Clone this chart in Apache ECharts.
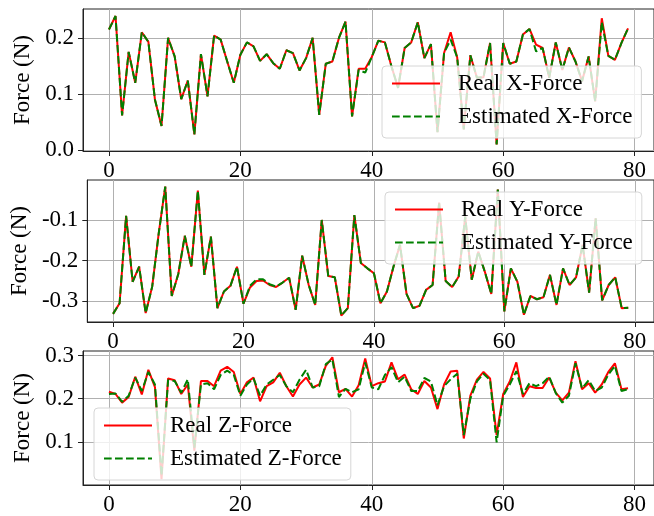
<!DOCTYPE html>
<html>
<head>
<meta charset="utf-8">
<script src="https://cdn.jsdelivr.net/npm/echarts@6/dist/echarts.min.js"></script>
<style>
    html, body { margin: 0; padding: 0; background: #fff; }
    #main { width: 654px; height: 516px; }
</style>
</head>
<body>
<div id="main"></div>
<script>
    // x 軸刻度
    var xTicks = [0, 20, 40, 60, 80];

    // X 方向力
    var realX = [0.215, 0.239, 0.062, 0.175, 0.120, 0.210, 0.193, 0.090, 0.043, 0.200,
        0.167, 0.091, 0.124, 0.028, 0.171, 0.096, 0.204, 0.197, 0.158, 0.120,
        0.170, 0.192, 0.185, 0.159, 0.171, 0.155, 0.145, 0.178, 0.173, 0.142,
        0.164, 0.200, 0.063, 0.154, 0.158, 0.200, 0.229, 0.060, 0.145, 0.145,
        0.166, 0.195, 0.192, 0.149, 0.111, 0.182, 0.192, 0.228, 0.164, 0.189,
        0.032, 0.173, 0.210, 0.165, 0.037, 0.169, 0.129, 0.130, 0.191, 0.010,
        0.191, 0.154, 0.158, 0.206, 0.216, 0.188, 0.182, 0.129, 0.192, 0.143,
        0.183, 0.158, 0.123, 0.167, 0.087, 0.235, 0.168, 0.161, 0.191, 0.217];
    var estX = [0.215, 0.239, 0.062, 0.175, 0.120, 0.210, 0.193, 0.090, 0.043, 0.200,
        0.167, 0.091, 0.124, 0.028, 0.171, 0.096, 0.204, 0.197, 0.158, 0.120,
        0.170, 0.192, 0.185, 0.159, 0.171, 0.155, 0.145, 0.178, 0.173, 0.142,
        0.164, 0.200, 0.063, 0.154, 0.158, 0.200, 0.229, 0.060, 0.143, 0.138,
        0.166, 0.195, 0.192, 0.149, 0.111, 0.182, 0.192, 0.228, 0.164, 0.189,
        0.032, 0.173, 0.197, 0.165, 0.037, 0.169, 0.129, 0.130, 0.191, 0.010,
        0.191, 0.154, 0.158, 0.206, 0.216, 0.176, 0.182, 0.129, 0.192, 0.143,
        0.183, 0.158, 0.123, 0.167, 0.087, 0.228, 0.168, 0.161, 0.191, 0.217];
    var yTicksX = [0.0, 0.1, 0.2];

    // Y 方向力
    var realY = [-0.331, -0.305, -0.090, -0.252, -0.215, -0.329, -0.264, -0.133, -0.018, -0.287,
        -0.233, -0.139, -0.215, -0.028, -0.235, -0.141, -0.317, -0.276, -0.262, -0.215,
        -0.306, -0.266, -0.250, -0.249, -0.260, -0.265, -0.254, -0.242, -0.321, -0.188,
        -0.260, -0.309, -0.100, -0.238, -0.241, -0.335, -0.317, -0.088, -0.206, -0.219,
        -0.231, -0.305, -0.276, -0.215, -0.161, -0.282, -0.317, -0.311, -0.272, -0.260,
        -0.057, -0.250, -0.265, -0.239, -0.092, -0.247, -0.178, -0.227, -0.282, -0.025,
        -0.325, -0.219, -0.252, -0.333, -0.287, -0.295, -0.290, -0.235, -0.309, -0.219,
        -0.260, -0.241, -0.161, -0.279, -0.096, -0.298, -0.260, -0.241, -0.317, -0.316];
    var estY = [-0.331, -0.305, -0.090, -0.252, -0.215, -0.329, -0.264, -0.133, -0.018, -0.287,
        -0.233, -0.139, -0.215, -0.028, -0.235, -0.141, -0.317, -0.276, -0.262, -0.215,
        -0.306, -0.262, -0.246, -0.246, -0.258, -0.264, -0.254, -0.242, -0.321, -0.188,
        -0.260, -0.309, -0.100, -0.238, -0.241, -0.335, -0.317, -0.088, -0.206, -0.219,
        -0.231, -0.305, -0.276, -0.215, -0.161, -0.282, -0.317, -0.311, -0.272, -0.260,
        -0.057, -0.250, -0.265, -0.239, -0.092, -0.247, -0.178, -0.227, -0.282, -0.025,
        -0.325, -0.219, -0.252, -0.333, -0.287, -0.295, -0.290, -0.235, -0.309, -0.219,
        -0.260, -0.241, -0.161, -0.279, -0.096, -0.298, -0.260, -0.241, -0.317, -0.316];
    var yTicksY = [-0.3, -0.2, -0.1];

    // Z 方向力
    var realZ = [0.216, 0.211, 0.191, 0.204, 0.251, 0.210, 0.267, 0.227, 0.014, 0.247,
        0.243, 0.211, 0.233, 0.080, 0.241, 0.241, 0.229, 0.265, 0.274, 0.262,
        0.211, 0.238, 0.249, 0.194, 0.229, 0.238, 0.260, 0.229, 0.205, 0.233,
        0.249, 0.226, 0.233, 0.276, 0.296, 0.215, 0.223, 0.205, 0.231, 0.293,
        0.229, 0.236, 0.240, 0.284, 0.245, 0.256, 0.222, 0.211, 0.241, 0.226,
        0.176, 0.233, 0.263, 0.265, 0.108, 0.207, 0.244, 0.262, 0.247, 0.116,
        0.211, 0.240, 0.284, 0.204, 0.229, 0.225, 0.225, 0.249, 0.214, 0.196,
        0.214, 0.287, 0.222, 0.236, 0.214, 0.233, 0.262, 0.282, 0.222, 0.224];
    var estZ = [0.211, 0.212, 0.193, 0.207, 0.249, 0.218, 0.262, 0.233, 0.022, 0.243,
        0.241, 0.214, 0.245, 0.087, 0.233, 0.236, 0.222, 0.255, 0.265, 0.255,
        0.207, 0.233, 0.247, 0.207, 0.233, 0.244, 0.255, 0.229, 0.215, 0.244,
        0.267, 0.226, 0.229, 0.280, 0.291, 0.204, 0.223, 0.215, 0.222, 0.284,
        0.226, 0.222, 0.255, 0.273, 0.238, 0.251, 0.218, 0.218, 0.248, 0.240,
        0.185, 0.229, 0.245, 0.258, 0.116, 0.200, 0.240, 0.258, 0.243, 0.099,
        0.207, 0.233, 0.264, 0.211, 0.236, 0.229, 0.236, 0.251, 0.213, 0.191,
        0.207, 0.282, 0.224, 0.243, 0.218, 0.226, 0.256, 0.276, 0.218, 0.222];
    var yTicksZ = [0.1, 0.2, 0.3];

    var myChart = echarts.init(document.getElementById('main'));
    var FONT = 'Liberation Serif';

    function pairs(arr) {
        return arr.map(function (v, i) { return [i, v]; });
    }

    // 三個子圖
    var panels = [
        { axis: 'X', top: 9, height: 142, min: -0.0015, max: 0.2515, ticks: yTicksX, real: realX, est: estX, legendLeft: 382, legendTop: 66 },
        { axis: 'Y', top: 180, height: 142, min: -0.351, max: -0.0017, ticks: yTicksY, real: realY, est: estY, legendLeft: 385, legendTop: 192 },
        { axis: 'Z', top: 351, height: 142, min: 0.0003, max: 0.3105, ticks: yTicksZ, real: realZ, est: estZ, legendLeft: 94, legendTop: 408 }
    ];

    var grids = [], xAxes = [], yAxes = [], series = [], legends = [];

    panels.forEach(function (p, k) {
        grids.push({
            left: 83, top: p.top, width: 574, height: p.height,
            show: true, borderColor: '#222', borderWidth: 1, backgroundColor: '#fff'
        });
        xAxes.push({
            gridIndex: k, type: 'value', min: -3.95, max: 82.95,
            axisLine: { onZero: false, lineStyle: { color: '#222', width: 1 } },
            axisTick: { customValues: xTicks, length: 5, lineStyle: { color: '#222' } },
            axisLabel: { customValues: xTicks, color: '#000', fontFamily: FONT, fontSize: 23, margin: 8 },
            splitLine: { show: true, lineStyle: { color: '#b0b0b0', width: 1 } }
        });
        yAxes.push({
            gridIndex: k, type: 'value', min: p.min, max: p.max,
            name: 'Force (N)', nameLocation: 'middle', nameGap: 41,
            nameTextStyle: { color: '#000', fontFamily: FONT, fontSize: 23 },
            axisLine: { show: true, onZero: false, lineStyle: { color: '#222', width: 1 } },
            axisTick: { show: true, customValues: p.ticks, length: 5, lineStyle: { color: '#222' } },
            axisLabel: {
                customValues: p.ticks, color: '#000', fontFamily: FONT, fontSize: 23, margin: 9,
                formatter: function (v) { return v.toFixed(1); }
            },
            splitLine: { show: true, lineStyle: { color: '#b0b0b0', width: 1 } }
        });
        var realName = 'Real ' + p.axis + '-Force';
        var estName = 'Estimated ' + p.axis + '-Force';
        series.push({
            name: realName, type: 'line', xAxisIndex: k, yAxisIndex: k,
            data: pairs(p.real), symbol: 'circle', showSymbol: false, animation: false,
            lineStyle: { color: '#ff0000', width: 2 },
            itemStyle: { color: '#ff0000' }
        });
        series.push({
            name: estName, type: 'line', xAxisIndex: k, yAxisIndex: k,
            data: pairs(p.est), symbol: 'circle', showSymbol: false, animation: false,
            lineStyle: { color: '#008000', width: 2, type: [7.7, 3.3] },
            itemStyle: { color: '#008000' }
        });
        legends.push({
            data: [realName, estName],
            orient: 'vertical', left: p.legendLeft, top: p.legendTop,
            itemWidth: 48, itemHeight: 14, itemGap: 10,
            padding: [6, 9, 10, 9],
            backgroundColor: 'rgba(255,255,255,0.8)',
            borderColor: '#d6d6d6', borderWidth: 1, borderRadius: 4,
            itemStyle: { opacity: 0 },
            textStyle: { color: '#000', fontFamily: FONT, fontSize: 23, lineHeight: 23, padding: [0, 0, 0, 13] },
            selectedMode: false
        });
    });

    var option = {
        animation: false,
        grid: grids,
        xAxis: xAxes,
        yAxis: yAxes,
        legend: legends,
        series: series
    };

    myChart.setOption(option);

    window.addEventListener('resize', function () {
        myChart.resize();
    });
</script>
</body>
</html>
